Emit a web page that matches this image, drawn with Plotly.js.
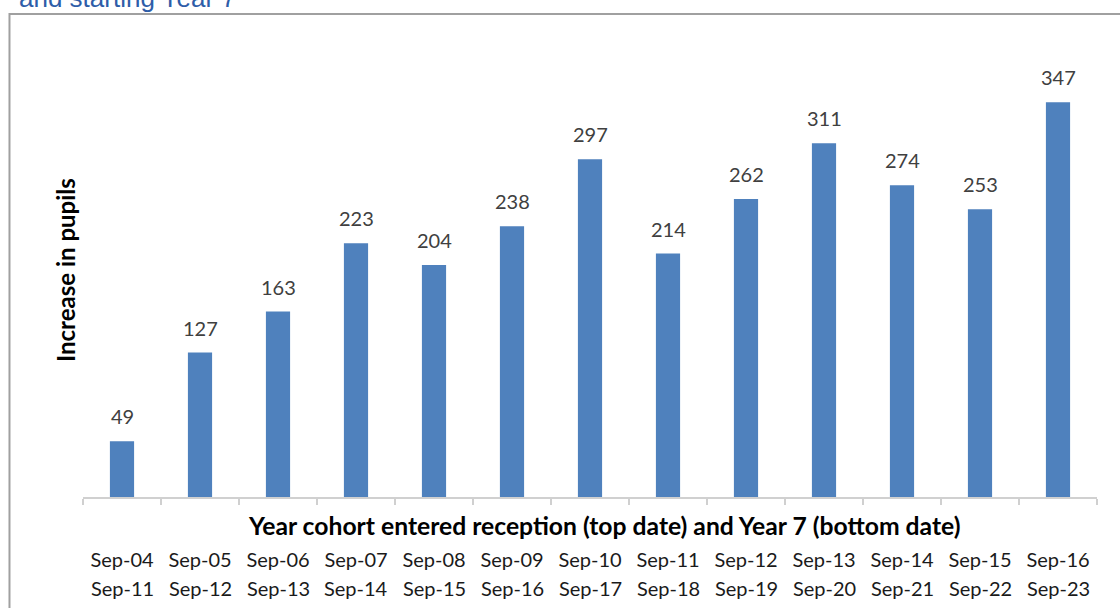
<!DOCTYPE html>
<html>
<head>
<meta charset="utf-8">
<script src="https://cdn.plot.ly/plotly-3.0.1.min.js"></script>
<style>html,body{margin:0;padding:0;background:#fff;}#chart{width:1120px;height:608px;}</style>
</head>
<body>
<div id="chart"></div>
<script>
const receptionDates = ["Sep-04","Sep-05","Sep-06","Sep-07","Sep-08","Sep-09","Sep-10","Sep-11","Sep-12","Sep-13","Sep-14","Sep-15","Sep-16"];
const year7Dates = ["Sep-11","Sep-12","Sep-13","Sep-14","Sep-15","Sep-16","Sep-17","Sep-18","Sep-19","Sep-20","Sep-21","Sep-22","Sep-23"];
const increase = [49,127,163,223,204,238,297,214,262,311,274,253,347];
const chartTitle = "and starting Year 7";
const xTitle = "Year cohort entered reception (top date) and Year 7 (bottom date)";
const yTitle = "Increase in pupils";

const FONT = "Lato, 'Open Sans', sans-serif";

const trace = {
  type: "bar",
  x: receptionDates,
  y: increase,
  width: 0.31,
  marker: {color: "#4F81BD"},
  hoverinfo: "x+y"
};

// value labels above bars
const valueLabels = receptionDates.map((c, i) => ({
  text: String(increase[i]), xref: "x", yref: "y", x: c, y: increase[i],
  xanchor: "center", yanchor: "middle", yshift: 25, showarrow: false,
  font: {family: FONT, size: 20, color: "#404040"}
}));

// second row of category labels (Year 7 date)
const bottomRow = receptionDates.map((c, i) => ({
  text: year7Dates[i], xref: "x", yref: "paper", x: c, y: -0.200,
  xanchor: "center", yanchor: "middle", showarrow: false,
  font: {family: FONT, size: 20, color: "#1A1A1A"}
}));

const layout = {
  width: 1120, height: 608,
  margin: {l: 83, r: 23, t: 42, b: 111},
  paper_bgcolor: "#fff", plot_bgcolor: "#fff",
  showlegend: false,
  xaxis: {
    type: "category",
    showline: true, linecolor: "#D0D0D0", linewidth: 1.5,
    ticks: "outside", tickson: "boundaries", ticklen: 6, tickcolor: "#D0D0D0", tickwidth: 1.5,
    tickfont: {family: FONT, size: 20, color: "#1A1A1A"},
    ticklabelstandoff: 44,
    showgrid: false, zeroline: false, fixedrange: true
  },
  yaxis: {
    range: [0, 400],
    showticklabels: false, showgrid: false, zeroline: false, showline: false, ticks: "",
    fixedrange: true
  },
  annotations: [
    {text: "<b>" + xTitle + "</b>", xref: "paper", yref: "paper", x: 0.514, y: -0.0637,
     xanchor: "center", yanchor: "middle", showarrow: false,
     font: {family: FONT, size: 24.7, color: "#000"}},
    {text: "<b>" + yTitle + "</b>", xref: "paper", yref: "paper", x: -0.0168, y: 0.499,
     xanchor: "center", yanchor: "middle", textangle: -90, showarrow: false,
     font: {family: FONT, size: 24, color: "#000"}},
    {text: chartTitle, xref: "paper", yref: "paper", x: -0.065, y: 1.0967,
     xanchor: "left", yanchor: "middle", showarrow: false,
     font: {family: "Liberation Sans, Arial, sans-serif", size: 26, color: "#2E5DA8"}}
  ].concat(valueLabels, bottomRow),
  shapes: [
    {type: "rect", xref: "paper", yref: "paper", x0: -0.0725, x1: 1.05, y0: -0.3, y1: 1.0615,
     line: {color: "#A0A0A0", width: 2}, fillcolor: "rgba(0,0,0,0)", layer: "below"}
  ]
};

Plotly.newPlot("chart", [trace], layout, {displayModeBar: false, staticPlot: true});
</script>
</body>
</html>
